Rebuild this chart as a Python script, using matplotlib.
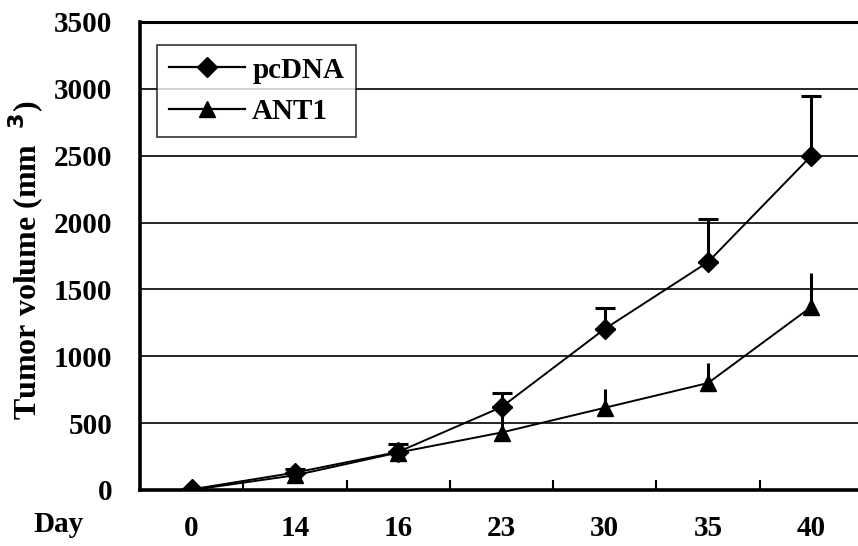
import numpy as np
import matplotlib
matplotlib.use("Agg")
import matplotlib.pyplot as plt
from matplotlib.lines import Line2D

# --- data ---
days = ["0", "14", "16", "23", "30", "35", "40"]
pcdna = [5, 130, 285, 620, 1205, 1705, 2500]
pcdna_err = [0, 30, 60, 105, 155, 320, 450]
ant1 = [0, 110, 280, 430, 615, 800, 1370]
ant1_err = [0, 25, 50, 120, 140, 150, 250]
y_ticks = [0, 500, 1000, 1500, 2000, 2500, 3000, 3500]

plt.rcParams["font.family"] = ["Liberation Serif", "DejaVu Serif"]
plt.rcParams["font.weight"] = "bold"
FS = 21

fig = plt.figure(figsize=(8.58, 5.46), dpi=100)
ax = fig.add_axes([140 / 858, 56 / 546, 723 / 858, 468 / 546])

x = np.arange(len(days))

# horizontal grid lines
for v in y_ticks[1:-1]:
    ax.axhline(v, color="black", lw=1.2, zorder=1)

ax.errorbar(x, pcdna, yerr=[np.zeros(len(x)), pcdna_err], color="black",
            lw=1.4, marker="D", ms=10, capsize=7, capthick=2.2, elinewidth=2.2,
            zorder=3)
ax.errorbar(x, ant1, yerr=[np.zeros(len(x)), ant1_err], color="black",
            lw=1.4, marker="^", ms=12, capsize=0, elinewidth=2.2,
            zorder=3)

ax.set_xlim(-0.5, len(days) - 0.5)
ax.set_ylim(0, 3500)
ax.set_yticks(y_ticks)
ax.set_yticklabels([str(v) for v in y_ticks], fontsize=FS, fontweight="bold")
ax.set_xticks(x)
ax.set_xticklabels(days, fontsize=FS, fontweight="bold")
ax.set_xticks(np.arange(-0.5, len(days)), minor=True)
ax.tick_params(axis="x", which="major", length=0, pad=18)
ax.tick_params(axis="x", which="minor", direction="in", length=7, width=1.5)
ax.tick_params(axis="y", length=0, pad=20)

for side in ["left", "bottom"]:
    ax.spines[side].set_linewidth(2.6)
ax.spines["top"].set_linewidth(2.2)
ax.spines["right"].set_linewidth(2.2)

# y label placed by hand, as in the original figure
fig.text(26 / 858, 1 - 260 / 546, "Tumor volume (mm  $^{3}$)", fontsize=23,
         fontweight="bold", rotation=90, ha="center", va="center")
fig.text(58 / 858, 1 - 524 / 546, "Day", fontsize=FS, fontweight="bold",
         ha="center", va="center")

handles = [Line2D([], [], color="black", lw=1.6, marker="D", ms=10),
           Line2D([], [], color="black", lw=1.6, marker="^", ms=12)]
leg = ax.legend(handles, ["pcDNA", "ANT1"], loc="upper left",
                bbox_to_anchor=(0.024, 0.951), prop={"size": FS, "weight": "bold"},
                frameon=True, fancybox=False, edgecolor="black",
                handlelength=2.6, borderpad=0.4, labelspacing=0.5,
                handletextpad=0.25, borderaxespad=0)
leg.get_frame().set_linewidth(1.2)

fig.savefig("out.png", dpi=100)
